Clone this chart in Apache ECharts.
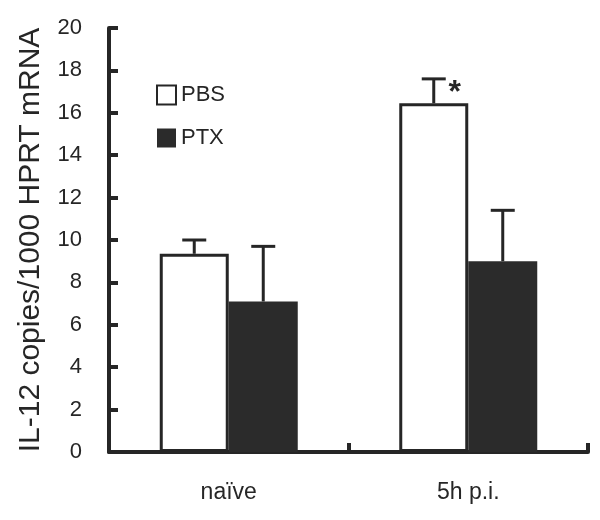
<!DOCTYPE html>
<html><head><meta charset="utf-8">
<script src="https://cdn.jsdelivr.net/npm/echarts@6/dist/echarts.min.js"></script>
<style>html,body{margin:0;padding:0;background:#fff}#c{width:600px;height:520px}</style>
</head><body><div id="c"></div>
<script>
const categories = ['naïve', '5h p.i.'];
const seriesNames = ['PBS', 'PTX'];
const pbsValues = [9.35, 16.45];
const pbsErrors = [0.65, 1.15];
const ptxValues = [7.1, 9.0];
const ptxErrors = [2.6, 2.4];
const significance = ['', '*'];
const yMin = 0, yMax = 20, yStep = 2;

const ink = '#262626';
const barW = 69;
const font = '"Liberation Sans", Arial, sans-serif';

function errSeries(vals, errs, offset, marks) {
  return {
    type: 'custom',
    silent: true,
    z: 5,
    data: vals.map((v, i) => [i, v, errs[i], marks ? marks[i] : '']),
    renderItem: function (params, api) {
      const i = api.value(0);
      const base = api.coord([i, api.value(1)]);
      const top = api.coord([i, api.value(1) + api.value(2)]);
      const x = base[0] + offset;
      const children = [
        { type: 'line', shape: { x1: x, y1: base[1], x2: x, y2: top[1] }, style: { stroke: ink, lineWidth: 3 } },
        { type: 'line', shape: { x1: x - 12, y1: top[1], x2: x + 12, y2: top[1] }, style: { stroke: ink, lineWidth: 3 } }
      ];
      const mark = api.value(3);
      if (mark) {
        children.push({ type: 'text', style: { text: mark, x: x + 21, y: top[1] - 2, fill: ink, font: 'bold 32px ' + font, align: 'center', verticalAlign: 'top' } });
      }
      return { type: 'group', children: children };
    }
  };
}

const chart = echarts.init(document.getElementById('c'));
chart.setOption({
  backgroundColor: '#fff',
  animation: false,
  grid: { left: 109, right: 12, top: 28, bottom: 68 },
  legend: {
    data: seriesNames,
    orient: 'vertical',
    left: 151, top: 79,
    icon: 'rect',
    itemWidth: 19, itemHeight: 19, itemGap: 21,
    textStyle: { fontSize: 22, lineHeight: 19, color: ink, fontFamily: font },
    selectedMode: false
  },
  xAxis: {
    type: 'category',
    data: categories,
    axisLine: { lineStyle: { color: ink, width: 4 } },
    axisTick: { show: true, inside: true, length: 9, lineStyle: { color: ink, width: 4 } },
    axisLabel: { fontSize: 23, color: ink, fontFamily: font, margin: 29 },
    splitLine: { show: false }
  },
  yAxis: {
    type: 'value',
    min: yMin, max: yMax, interval: yStep,
    name: 'IL-12 copies/1000 HPRT mRNA',
    nameLocation: 'middle',
    nameGap: 63,
    nameTextStyle: { fontSize: 30, color: ink, fontFamily: font },
    axisLine: { show: true, lineStyle: { color: ink, width: 4 } },
    axisTick: { show: true, inside: true, length: 9, lineStyle: { color: ink, width: 4 } },
    axisLabel: { fontSize: 22, color: ink, fontFamily: font, margin: 27 },
    splitLine: { show: false }
  },
  series: [
    { name: 'PBS', type: 'bar', data: pbsValues, barWidth: barW, barGap: '0%',
      itemStyle: { color: '#fff', borderColor: ink, borderWidth: 3 } },
    { name: 'PTX', type: 'bar', data: ptxValues, barWidth: barW, barGap: '0%',
      itemStyle: { color: '#2b2b2b', borderColor: '#2b2b2b', borderWidth: 0 } },
    errSeries(pbsValues, pbsErrors, -barW / 2, significance),
    errSeries(ptxValues, ptxErrors, barW / 2, null)
  ]
});
</script></body></html>
